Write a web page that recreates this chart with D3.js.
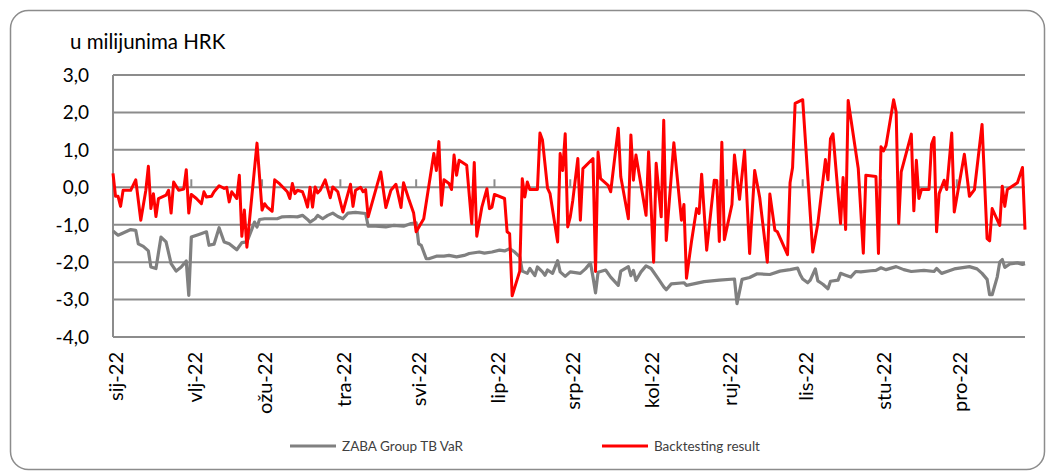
<!DOCTYPE html>
<html><head><meta charset="utf-8">
<script src="https://cdn.jsdelivr.net/npm/d3@7"></script>
<style>body{margin:0;background:#fff}svg{display:block}</style>
</head><body>
<script>
// ---------- data ----------
const unitLabel = "u milijunima HRK";
const monthLabels = ["sij-22","vlj-22","ožu-22","tra-22","svi-22","lip-22","srp-22","kol-22","ruj-22","lis-22","stu-22","pro-22"];
const yTickValues = [3,2,1,0,-1,-2,-3,-4];
const seriesNames = ["ZABA Group TB VaR","Backtesting result"];

// day of year 2022 (0 = 1 Jan)
const varDay = [0,2,4,7,9,10,12,14,15,17,19,21,23,25,27,29,30,31,34,37,38,40,42,44,46,49,51,53,55,56,57,58,60,65,67,70,73,75,77,78,80,81,83,85,87,89,91,93,96,100,101,104,108,111,115,118,120,121,122,124,125,128,131,133,136,139,141,145,147,150,153,155,157,159,161,162,164,165,167,168,170,171,172,174,176,177,179,181,183,185,187,189,190,191,192,195,197,200,201,204,205,206,207,209,211,213,216,218,219,221,226,227,234,240,246,247,249,252,255,260,264,268,271,272,273,275,276,278,279,281,283,284,287,288,290,292,294,296,300,302,304,306,310,313,316,321,325,326,328,331,333,335,339,342,344,346,347,348,350,351,352,353,355,358,360,361];
const varValue = [-1.17,-1.28,-1.22,-1.13,-1.15,-1.51,-1.58,-1.70,-2.13,-2.17,-1.33,-1.46,-2.04,-2.24,-2.13,-1.97,-2.89,-1.33,-1.26,-1.19,-1.55,-1.52,-1.08,-1.46,-1.51,-1.67,-1.48,-1.46,-1.11,-0.93,-1.06,-0.86,-0.84,-0.84,-0.79,-0.78,-0.79,-0.75,-0.86,-0.93,-0.84,-0.75,-0.84,-0.75,-0.69,-0.78,-0.84,-0.69,-0.67,-0.70,-1.04,-1.04,-1.06,-1.02,-1.04,-0.97,-0.95,-1.51,-1.55,-1.91,-1.91,-1.84,-1.84,-1.82,-1.86,-1.82,-1.77,-1.73,-1.76,-1.73,-1.68,-1.70,-1.64,-1.73,-1.86,-2.24,-2.30,-2.17,-2.36,-2.13,-2.26,-2.35,-2.21,-2.30,-1.96,-2.26,-2.38,-2.26,-2.28,-2.30,-2.18,-2.02,-2.40,-2.82,-2.27,-2.21,-2.40,-2.62,-2.24,-2.12,-2.36,-2.22,-2.49,-2.26,-2.10,-2.17,-2.46,-2.66,-2.74,-2.58,-2.55,-2.62,-2.52,-2.48,-2.45,-3.11,-2.46,-2.41,-2.31,-2.33,-2.24,-2.20,-2.16,-2.33,-2.45,-2.55,-2.48,-2.18,-2.50,-2.59,-2.71,-2.51,-2.48,-2.30,-2.35,-2.40,-2.25,-2.26,-2.23,-2.22,-2.15,-2.20,-2.12,-2.20,-2.25,-2.22,-2.25,-2.17,-2.30,-2.23,-2.18,-2.16,-2.12,-2.18,-2.30,-2.46,-2.87,-2.87,-2.40,-2.00,-1.93,-2.14,-2.05,-2.02,-2.06,-2.04];

const btDay = [0,1,2,3,4,7,9,11,13,14,15,16,17,18,21,22,23,24,26,28,29,30,31,33,35,36,37,39,40,42,44,45,46,47,48,49,50,51,52,53,57,59,60,61,63,64,66,69,70,71,72,73,75,76,77,78,79,80,81,82,84,86,87,89,91,94,95,96,98,99,100,101,106,108,110,112,114,115,117,119,120,123,127,128,129,130,131,133,134,135,136,137,140,142,143,144,146,148,149,150,151,155,156,157,158,161,162,163,164,165,168,169,170,172,173,176,177,178,179,180,181,182,184,185,186,190,191,192,193,196,197,200,201,204,205,206,207,211,212,214,215,217,218,219,222,225,226,227,229,231,232,233,235,238,239,240,241,242,245,246,248,250,252,254,256,259,260,262,263,267,268,269,270,273,277,279,282,283,284,285,288,289,290,291,295,297,298,302,303,304,305,306,309,310,311,312,316,317,318,319,320,323,324,325,326,327,329,330,332,333,337,339,341,344,346,347,348,351,352,353,354,358,360,361];
const btValue = [0.37,-0.24,-0.24,-0.51,-0.08,-0.08,0.20,-0.88,-0.08,0.56,-0.57,-0.17,-0.78,-0.30,-0.21,-0.08,-0.69,0.14,-0.08,-0.05,0.47,-0.69,-0.19,-0.30,-0.44,-0.12,-0.26,-0.24,-0.12,0.04,-0.03,0.00,-0.39,-0.12,-0.21,-0.30,0.32,-1.31,-0.61,-1.60,1.18,-0.61,-0.44,-0.53,-0.64,0.20,0.09,-0.12,-0.30,0.10,-0.17,-0.08,-0.12,-0.30,-0.53,0.00,-0.53,0.01,-0.15,-0.08,0.20,-0.28,0.01,-0.12,-0.66,0.08,-0.51,-0.08,0.00,-0.12,-0.06,-0.79,0.41,-0.54,-0.08,0.08,-0.54,0.12,-0.30,-0.69,-1.19,-0.84,0.90,0.45,1.22,-0.48,0.20,0.10,-0.06,0.86,0.32,0.72,0.59,-0.97,0.66,-1.31,-0.53,-0.04,-0.57,-0.53,-0.19,-0.30,-1.19,-1.24,-2.90,-2.24,0.23,-0.26,0.14,-0.06,-0.06,1.45,1.26,-0.02,-0.17,-1.46,0.90,0.45,1.43,-1.06,-0.79,-0.35,0.77,-0.88,0.50,0.77,-2.25,0.94,0.23,0.05,-0.12,1.58,0.28,-0.84,1.40,0.19,0.86,-0.75,0.95,-2.00,0.64,-0.79,1.79,-1.42,1.19,-0.88,-0.46,-2.43,-1.44,-0.57,-0.70,0.35,-1.68,0.19,0.18,-1.45,1.20,-1.40,-0.46,0.86,-0.32,0.98,-1.77,0.45,-0.28,-2.00,-0.18,-1.15,-1.19,-1.80,0.12,0.53,2.24,2.34,-1.73,-0.97,0.74,0.20,1.30,1.43,-0.97,0.26,-1.13,2.32,0.50,-1.76,0.32,0.29,-1.77,1.08,0.97,1.12,2.34,2.01,-0.97,0.41,1.42,-0.63,0.72,-0.30,-0.06,-0.06,1.15,1.33,-1.19,-0.17,0.19,-0.06,1.45,-0.66,0.88,-0.24,-0.06,1.68,-1.37,-1.43,-0.57,-1.02,0.03,-0.51,-0.06,0.12,0.53,-1.13];

// ---------- drawing ----------
const W = 1056, H = 474;
const yearStart = new Date(2022, 0, 1);
const toDate = d => d3.timeDay.offset(yearStart, d);
const varData = varDay.map((d, i) => ({date: toDate(d), value: varValue[i]}));
const btData = btDay.map((d, i) => ({date: toDate(d), value: btValue[i]}));

const svg = d3.select("body").append("svg").attr("width", W).attr("height", H);
svg.append("rect").attr("width", W).attr("height", H).attr("fill", "#fff");
svg.append("rect").attr("x", 10.5).attr("y", 10.5).attr("width", 1034).attr("height", 459)
  .attr("rx", 18).attr("fill", "#fff").attr("stroke", "#8c8c8c").attr("stroke-width", 1.5);

const x = d3.scaleTime().domain([yearStart, new Date(2022, 11, 28)]).range([113, 1025]);
const y = d3.scaleLinear().domain([-4, 3]).range([337, 75]);
const FONT = "Lato, 'Open Sans', sans-serif";

// gridlines
svg.append("g").selectAll("line").data(yTickValues).join("line")
  .attr("x1", 113).attr("x2", 1025).attr("y1", d => y(d)).attr("y2", d => y(d))
  .attr("stroke", "#8c8c8c").attr("stroke-width", 2);
// left axis line
svg.append("line").attr("x1", 113).attr("x2", 113).attr("y1", y(3)).attr("y2", y(-4))
  .attr("stroke", "#8c8c8c").attr("stroke-width", 2);

// y tick labels
const fmt = v => d3.format(".1f")(v).replace(".", ",").replace("−", "-");
svg.append("g").selectAll("text").data(yTickValues).join("text")
  .attr("x", 89).attr("y", d => y(d)).attr("dy", "0.36em")
  .attr("text-anchor", "end").attr("font-family", FONT).attr("font-size", 19)
  .attr("fill", "#000").text(fmt);

// title
svg.append("text").attr("x", 70).attr("y", 49).attr("font-family", FONT)
  .attr("font-size", 20.5).attr("fill", "#000").text(unitLabel);

// month ticks at zero line
const monthDates = d3.timeMonth.range(yearStart, new Date(2022, 11, 2));
svg.append("g").selectAll("line").data(monthDates.slice(1)).join("line")
  .attr("x1", d => x(d)).attr("x2", d => x(d)).attr("y1", y(0) - 8).attr("y2", y(0))
  .attr("stroke", "#8c8c8c").attr("stroke-width", 2);

// month labels
svg.append("g").selectAll("text").data(monthDates).join("text")
  .attr("transform", d => `translate(${x(d) + 3},352) rotate(-90)`)
  .attr("dy", "0.36em").attr("text-anchor", "end")
  .attr("font-family", FONT).attr("font-size", 20).attr("fill", "#000")
  .text((d, i) => monthLabels[i]);

// lines
const line = d3.line().x(d => x(d.date)).y(d => y(d.value));
svg.append("path").datum(varData).attr("d", line).attr("fill", "none")
  .attr("stroke", "#808080").attr("stroke-width", 3.2).attr("stroke-linejoin", "round");
svg.append("path").datum(btData).attr("d", line).attr("fill", "none")
  .attr("stroke", "#ff0000").attr("stroke-width", 3).attr("stroke-linejoin", "round");

// legend
const legend = [
  {name: seriesNames[0], color: "#808080", x: 290},
  {name: seriesNames[1], color: "#ff0000", x: 602}
];
const lg = svg.append("g").selectAll("g").data(legend).join("g")
  .attr("transform", d => `translate(${d.x},446)`);
lg.append("line").attr("x1", 0).attr("x2", 46).attr("stroke", d => d.color).attr("stroke-width", 3);
lg.append("text").attr("x", 52).attr("dy", "0.35em").attr("font-family", FONT)
  .attr("font-size", 13.5).attr("fill", "#404040").text(d => d.name);
</script>
</body></html>
